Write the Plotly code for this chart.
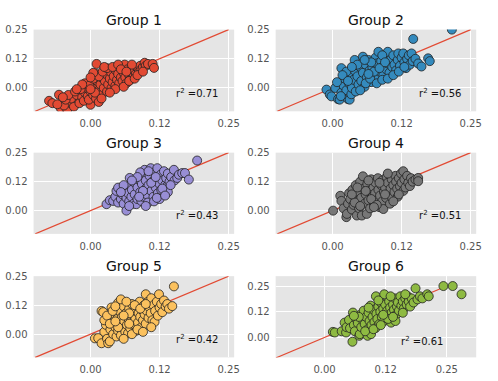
import plotly.graph_objects as go

titles = ["Group 1", "Group 2", "Group 3", "Group 4", "Group 5", "Group 6"]
colors = ["#E24A33", "#348ABD", "#988ED5", "#777777", "#FBC15E", "#8EBA42"]
r2_values = [0.71, 0.56, 0.43, 0.51, 0.42, 0.61]
tick_vals = [0.0, 0.125, 0.25]
tick_text = ["0.00", "0.12", "0.25"]
line_ends = [-0.1, 0.25]

g1 = [(-0.075,-0.055),(-0.069,-0.065),(-0.057,-0.029),(-0.054,-0.086),(-0.042,-0.094),(-0.038,-0.063),
      (-0.021,-0.05),(0.0,-0.072),(-0.048,-0.075),(-0.03,-0.08),(-0.035,-0.045),(-0.025,-0.03),(-0.02,-0.065),
      (-0.015,-0.04),(-0.01,-0.02),(-0.012,-0.055),(-0.005,-0.035),(-0.008,0.0),(-0.003,-0.05),(0.0,-0.015),
      (0.002,0.02),(0.005,-0.03),(0.008,0.0),(0.011,0.103),(0.01,-0.045),(0.012,0.03),(0.015,-0.01),(0.018,0.015),
      (0.02,0.045),(0.02,-0.03),(0.024,0.0),(0.026,0.03),(0.028,0.06),(0.03,-0.015),(0.032,0.015),(0.035,0.04),
      (0.036,0.07),(0.038,0.0),(0.04,0.025),(0.042,0.05),(0.045,0.01),(0.046,0.075),(0.048,0.035),(0.05,0.06),
      (0.052,0.02),(0.055,0.045),(0.056,0.085),(0.058,0.03),(0.06,0.065),(0.062,0.1),(0.063,0.045),(0.065,0.02),
      (0.067,0.08),(0.07,0.055),(0.072,0.035),(0.074,0.07),(0.076,0.09),(0.078,0.05),(0.08,0.075),(0.082,0.06),
      (0.085,0.085),(0.086,0.086),(0.088,0.07),(0.09,0.095),(0.092,0.08),(0.095,0.09),(0.098,0.108),(0.1,0.095),
      (0.104,0.103),(0.1125,0.103),(0.115,0.086),(-0.045,-0.05),(-0.04,-0.03),(-0.028,-0.015),(-0.018,-0.005),
      (-0.01,0.02),(-0.002,0.01),(0.005,0.04),(0.01,0.06),(0.015,0.05),(0.022,0.07),(0.03,0.085),(0.005,0.065),
      (0.0,0.045),(-0.015,0.015),(0.025,0.09),(0.04,0.09),(0.05,0.1),(0.045,-0.005),(0.06,0.005),(0.035,-0.02),
      (0.015,-0.06),(0.008,-0.02),(-0.025,-0.005),(0.0,-0.005),(0.07,0.03),(0.08,0.04),(0.085,0.055),(0.095,0.07),
      (0.055,0.08),(0.065,0.07),(0.075,0.1),(0.02,-0.045),(-0.06,-0.07),(-0.05,-0.04)]
g2 = [(-0.011,-0.007),(-0.005,-0.028),(-0.002,-0.036),(0.005,0.0),(0.01,-0.048),(0.013,-0.05),(0.016,-0.02),
      (0.016,0.085),(0.02,0.01),(0.022,0.04),(0.025,-0.01),(0.028,-0.048),(0.031,-0.05),(0.034,-0.027),(0.03,0.02),
      (0.032,0.06),(0.035,0.0),(0.038,0.035),(0.04,0.12),(0.04,0.075),(0.042,-0.015),(0.045,0.05),(0.047,0.015),
      (0.05,0.09),(0.052,0.03),(0.055,0.134),(0.055,0.065),(0.058,0.005),(0.06,0.1),(0.062,0.045),(0.065,0.12),
      (0.067,0.075),(0.07,0.025),(0.072,0.09),(0.075,0.055),(0.078,0.13),(0.08,0.105),(0.082,0.04),(0.083,0.155),
      (0.085,0.07),(0.088,0.115),(0.09,0.09),(0.092,0.055),(0.095,0.135),(0.097,0.08),(0.1,0.155),(0.1,0.105),
      (0.103,0.065),(0.105,0.12),(0.108,0.09),(0.11,0.14),(0.112,0.1),(0.115,0.075),(0.118,0.12),(0.119,0.148),
      (0.122,0.095),(0.125,0.13),(0.128,0.148),(0.13,0.11),(0.133,0.085),(0.135,0.125),(0.138,0.14),(0.14,0.1),
      (0.143,0.148),(0.146,0.21),(0.145,0.115),(0.15,0.125),(0.155,0.105),(0.161,0.092),(0.173,0.127),(0.176,0.115),
      (0.216,0.25),(0.025,0.07),(0.018,0.055),(0.008,0.025),(0.045,0.1),(0.06,0.02),(0.068,0.04),(0.08,0.02),
      (0.09,0.035),(0.1,0.04),(0.11,0.055),(0.05,-0.01),(0.035,0.09),(0.07,0.11),(0.058,0.12),(0.09,0.14),
      (0.12,0.07),(0.13,0.09),(0.075,0.07),(0.085,0.085),(0.065,0.06),(0.095,0.11),(0.015,-0.035),(0.028,0.03)]
g3 = [(0.029,0.028),(0.035,0.045),(0.041,0.042),(0.045,0.06),(0.047,0.085),(0.05,0.099),(0.05,0.035),(0.055,0.05),
      (0.058,0.07),(0.06,0.03),(0.062,0.09),(0.065,0.0),(0.065,0.055),(0.068,0.075),(0.07,0.04),(0.071,0.141),
      (0.072,0.11),(0.074,0.06),(0.075,0.09),(0.078,0.03),(0.08,0.12),(0.08,0.07),(0.083,0.028),(0.085,0.1),
      (0.085,0.05),(0.088,0.135),(0.09,0.08),(0.092,0.042),(0.093,0.115),(0.095,0.06),(0.096,0.155),(0.098,0.176),
      (0.1,0.095),(0.1,0.13),(0.102,0.07),(0.104,0.035),(0.105,0.11),(0.107,0.15),(0.109,0.183),(0.11,0.085),
      (0.112,0.125),(0.114,0.06),(0.116,0.165),(0.118,0.1),(0.12,0.14),(0.121,0.183),(0.122,0.075),(0.125,0.115),
      (0.127,0.155),(0.128,0.09),(0.13,0.13),(0.133,0.17),(0.135,0.11),(0.137,0.14),(0.139,0.106),(0.14,0.16),
      (0.143,0.125),(0.146,0.145),(0.151,0.176),(0.152,0.13),(0.157,0.141),(0.16,0.155),(0.166,0.162),(0.171,0.162),
      (0.178,0.134),(0.193,0.216),(0.06,0.11),(0.09,0.165),(0.115,0.04),(0.125,0.05),(0.14,0.08),(0.1,0.02),
      (0.085,0.145),(0.07,0.02),(0.13,0.095),(0.12,0.055),(0.105,0.17),(0.095,0.085),(0.075,0.13),(0.11,0.12),
      (0.145,0.11),(0.055,0.08),(0.088,0.06),(0.118,0.145),(0.135,0.065)]
g4 = [(0.001,0.0),(0.014,0.064),(0.016,0.042),(0.02,0.01),(0.025,-0.028),(0.026,-0.014),(0.028,0.03),(0.03,0.075),
      (0.032,0.05),(0.035,0.005),(0.036,0.09),(0.038,0.025),(0.04,0.06),(0.042,0.11),(0.044,-0.021),(0.045,0.04),
      (0.047,0.08),(0.048,0.01),(0.05,0.125),(0.052,0.055),(0.053,-0.021),(0.055,0.148),(0.056,0.095),(0.058,0.03),
      (0.06,0.07),(0.062,-0.014),(0.063,0.115),(0.065,0.045),(0.067,0.085),(0.068,0.01),(0.07,0.135),(0.072,0.06),
      (0.074,0.1),(0.075,0.03),(0.077,0.075),(0.078,0.12),(0.08,0.045),(0.082,0.14),(0.083,0.09),(0.085,0.015),
      (0.086,0.065),(0.088,0.11),(0.09,0.13),(0.09,0.04),(0.092,0.007),(0.093,0.08),(0.095,0.1),(0.097,0.055),
      (0.098,0.145),(0.1,0.12),(0.102,0.075),(0.104,0.03),(0.105,0.095),(0.107,0.135),(0.108,0.055),(0.11,0.11),
      (0.112,0.08),(0.114,0.15),(0.115,0.125),(0.117,0.095),(0.118,0.06),(0.12,0.14),(0.122,0.105),(0.124,0.16),
      (0.125,0.12),(0.128,0.17),(0.128,0.085),(0.13,0.135),(0.132,0.1),(0.135,0.15),(0.137,0.12),(0.14,0.106),
      (0.142,0.14),(0.145,0.125),(0.15,0.134),(0.155,0.141),(0.155,0.127),(0.06,0.085),(0.04,0.035),(0.05,0.02),
      (0.07,0.05),(0.08,0.025),(0.065,0.13),(0.085,0.12),(0.095,0.07),(0.11,0.04),(0.12,0.07),(0.075,0.015),
      (0.035,0.07),(0.045,0.1),(0.1,0.16)]
g5 = [(0.008,-0.018),(0.014,-0.017),(0.02,-0.039),(0.02,0.1),(0.023,0.095),(0.025,0.01),(0.028,0.04),(0.03,-0.02),
      (0.032,-0.039),(0.033,0.07),(0.035,-0.031),(0.036,0.02),(0.038,0.115),(0.04,0.05),(0.041,0.0),(0.043,0.085),
      (0.045,0.03),(0.047,-0.01),(0.048,0.065),(0.05,0.135),(0.05,0.015),(0.052,0.1),(0.054,0.045),(0.055,-0.005),
      (0.057,0.075),(0.058,0.03),(0.06,0.12),(0.061,0.055),(0.063,0.01),(0.064,0.09),(0.066,0.04),(0.068,0.004),
      (0.068,0.07),(0.07,0.11),(0.072,0.025),(0.073,0.055),(0.075,0.13),(0.076,0.085),(0.078,0.04),(0.08,0.1),
      (0.081,0.065),(0.083,0.015),(0.084,0.12),(0.086,0.05),(0.087,0.09),(0.089,0.14),(0.09,0.075),(0.092,0.03),
      (0.093,0.105),(0.095,0.06),(0.097,0.125),(0.098,0.085),(0.1,0.172),(0.1,0.045),(0.102,0.1),(0.104,0.14),
      (0.105,0.07),(0.107,0.115),(0.109,0.09),(0.11,0.155),(0.112,0.06),(0.114,0.125),(0.116,0.053),(0.117,0.1),
      (0.12,0.14),(0.122,0.08),(0.124,0.172),(0.125,0.115),(0.128,0.13),(0.13,0.095),(0.133,0.145),(0.136,0.12),
      (0.139,0.13),(0.142,0.11),(0.148,0.121),(0.151,0.206),(0.025,0.06),(0.03,0.08),(0.04,0.1),(0.045,0.12),
      (0.055,0.15),(0.065,0.14),(0.06,-0.02),(0.075,0.0),(0.085,0.02),(0.095,0.01),(0.05,0.03),(0.07,0.09),
      (0.08,0.125),(0.09,0.11),(0.1,0.13),(0.11,0.03),(0.035,0.045),(0.045,0.055),(0.06,0.08),(0.07,0.045)]
g6 = [(0.017,0.027),(0.021,0.024),(0.035,0.03),(0.041,0.072),(0.044,0.024),(0.045,0.05),(0.05,0.085),(0.052,0.045),
      (0.057,-0.021),(0.058,0.121),(0.06,0.06),(0.062,0.03),(0.065,0.09),(0.068,0.07),(0.071,0.008),(0.072,0.016),
      (0.073,0.11),(0.075,0.05),(0.078,0.085),(0.08,0.13),(0.082,0.065),(0.085,0.1),(0.088,0.008),(0.088,0.04),
      (0.09,0.12),(0.092,0.08),(0.094,0.155),(0.095,0.016),(0.096,0.06),(0.098,0.1),(0.1,0.135),(0.102,0.075),
      (0.104,0.045),(0.105,0.2),(0.106,0.115),(0.108,0.09),(0.11,0.15),(0.112,0.065),(0.114,0.125),(0.115,0.17),
      (0.117,0.1),(0.12,0.14),(0.122,0.21),(0.122,0.08),(0.124,0.16),(0.126,0.115),(0.128,0.13),(0.13,0.1),
      (0.132,0.175),(0.134,0.145),(0.136,0.072),(0.137,0.12),(0.14,0.16),(0.142,0.135),(0.144,0.19),(0.146,0.11),
      (0.148,0.15),(0.15,0.17),(0.152,0.13),(0.155,0.2),(0.157,0.155),(0.16,0.175),(0.162,0.14),(0.165,0.19),
      (0.168,0.16),(0.17,0.2),(0.172,0.175),(0.175,0.15),(0.178,0.19),(0.182,0.17),(0.186,0.239),(0.19,0.185),
      (0.195,0.2),(0.2,0.19),(0.21,0.21),(0.213,0.2),(0.243,0.25),(0.262,0.25),(0.28,0.21),(0.07,0.1),(0.083,0.03),
      (0.1,0.04),(0.115,0.06),(0.13,0.09),(0.145,0.08),(0.16,0.12),(0.06,0.105),(0.09,0.145),(0.11,0.18),
      (0.135,0.2),(0.165,0.21),(0.12,0.11),(0.14,0.1)]
groups = [g1, g2, g3, g4, g5, g6]

x_ranges = [[-0.103, 0.26]] * 5 + [[-0.1, 0.31]]
y_ranges = [[-0.1, 0.25]] * 5 + [[-0.097, 0.298]]

W, H = 498, 381
col_px = [(34, 237), (279, 482)]
row_px = [(24, 107), (149, 231.5), (274.5, 357)]
title_px = [14, 139, 264]

fig = go.Figure()
annotations = []
layout = {}
for i, pts in enumerate(groups):
    r, c = divmod(i, 2)
    sfx = "" if i == 0 else str(i + 1)
    xs = [p[0] for p in pts]
    ys = [p[1] for p in pts]
    fig.add_trace(go.Scatter(
        x=list(line_ends), y=list(line_ends), mode="lines",
        line=dict(color="#E24A33", width=1.2),
        xaxis="x" + sfx, yaxis="y" + sfx, showlegend=False, hoverinfo="skip"))
    fig.add_trace(go.Scatter(
        x=xs, y=ys, mode="markers",
        marker=dict(size=9, color=colors[i], line=dict(color="#222222", width=0.8)),
        xaxis="x" + sfx, yaxis="y" + sfx, showlegend=False))
    x0, x1 = col_px[c]
    y0, y1 = row_px[r]
    axis_common = dict(
        tickvals=tick_vals, ticktext=tick_text, showgrid=True, gridcolor="white", gridwidth=1,
        zeroline=False, showline=False, ticks="outside", ticklen=3, tickcolor="rgba(0,0,0,0)",
        tickfont=dict(family="DejaVu Sans", size=10, color="#555555"), fixedrange=True)
    layout["xaxis" + sfx] = dict(axis_common, domain=[x0 / W, x1 / W], range=x_ranges[i],
                                 anchor="y" + sfx)
    layout["yaxis" + sfx] = dict(axis_common, domain=[1 - y1 / H, 1 - y0 / H], range=y_ranges[i],
                                 anchor="x" + sfx)
    annotations.append(dict(
        text=titles[i], xref="paper", yref="paper", x=(x0 + x1) / 2 / W, y=1 - title_px[r] / H,
        xanchor="center", yanchor="middle", showarrow=False,
        font=dict(family="DejaVu Sans", size=14, color="#111111")))
    annotations.append(dict(
        text="r<sup>2</sup> =%.2f" % r2_values[i], xref="x" + sfx, yref="y" + sfx,
        x=0.152, y=-0.055, xanchor="left", yanchor="bottom", showarrow=False,
        font=dict(family="DejaVu Sans", size=10, color="#111111")))

fig.update_layout(
    width=W, height=H, margin=dict(l=0, r=0, t=0, b=0),
    paper_bgcolor="white", plot_bgcolor="#E5E5E5", hovermode=False,
    annotations=annotations, **layout)

fig.write_html("out.html", config={"displayModeBar": False, "staticPlot": True},
               post_script="document.body.style.margin='0px';document.body.style.padding='0px';")
